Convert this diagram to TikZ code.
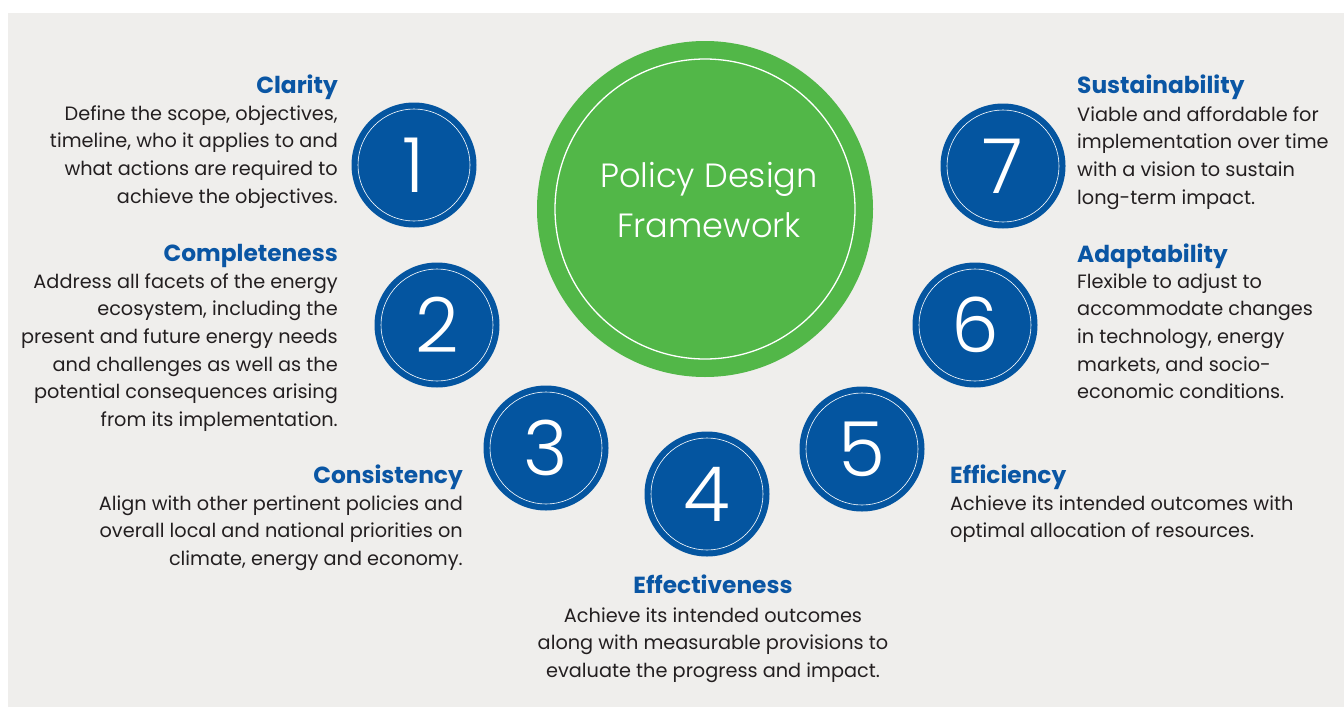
\documentclass[tikz,border=0pt]{standalone}
\usepackage{fontspec}
\setmainfont{Poppins}
\IfFontExistsTF{Poppins Light}
  {\newfontfamily\thinfont{Poppins Light}}
  {\newfontfamily\thinfont{Poppins}}
\definecolor{pagebg}{HTML}{EFEEEC}
\definecolor{hubgreen}{HTML}{52B748}
\definecolor{discblue}{HTML}{0455A0}
\definecolor{headblue}{HTML}{0A56A4}
\definecolor{bodyink}{HTML}{231F20}
% text blocks: first row baseline is the block's baseline
\newcommand\rlines[1]{\begin{tabular}[t]{@{}r@{}}#1\end{tabular}}
\newcommand\llines[1]{\begin{tabular}[t]{@{}l@{}}#1\end{tabular}}
\newcommand\clines[1]{\begin{tabular}[t]{@{}c@{}}#1\end{tabular}}
\begin{document}
\begin{tikzpicture}[x=1pt,y=-1pt,
  hub/.style={circle, fill=hubgreen, minimum size=336pt, inner sep=0pt},
  numdisc/.style={circle, fill=discblue, minimum size=125pt, inner sep=0pt,
    text=white, font=\thinfont\fontsize{76}{76}\selectfont},
  ring/.style={draw=white, line width=0.6pt},
  hubring/.style={draw=white, line width=1.3pt},
  head/.style={text=headblue, inner sep=0pt, font=\bfseries\fontsize{23.3}{28}\selectfont},
  body/.style={text=bodyink, inner sep=0pt, font=\fontsize{19.3}{27.7}\selectfont},
  hubtext/.style={text=white, inner sep=0pt, font=\thinfont\fontsize{33.6}{50}\selectfont}]
\useasboundingbox (0,0) rectangle (1344,707);
\fill[white] (0,0) rectangle (1344,707);
\fill[pagebg] (8,13) rectangle (1344,707);

% central circle
\node[hub] (hub) at (705,209) {};
\draw[hubring] (hub.center) circle[radius=150];
\node[hubtext, anchor=base] (title) at (709,187) {\clines{Policy Design\\Framework}};

% numbered discs
\foreach \n/\x/\y in {1/414/165, 2/437/325, 3/546/448, 4/707/494,
                      5/862/449, 6/975/325, 7/1003/166} {
  \node[numdisc] (c\n) at (\x,\y) {\n};
  \draw[ring] (c\n.center) circle[radius=56];
}

% left column
\node[head, anchor=base east] (h1) at (338,93) {Clarity};
\node[body, anchor=base east] (b1) at (338,120) {\rlines{Define the scope, objectives,\\
  timeline, who it applies to and\\what actions are required to\\achieve the objectives.}};

\node[head, anchor=base east] (h2) at (338,261) {Completeness};
\node[body, anchor=base east] (b2) at (338,288) {\rlines{Address all facets of the energy\\
  ecosystem, including the\\present and future energy needs\\and challenges as well as the\\
  potential consequences arising\\from its implementation.}};

\node[head, anchor=base east] (h3) at (463,483) {Consistency};
\node[body, anchor=base east] (b3) at (463,510) {\rlines{Align with other pertinent policies and\\
  overall local and national priorities on\\climate, energy and economy.}};

% bottom
\node[head, anchor=base] (h4) at (713,593) {Effectiveness};
\node[body, anchor=base] (b4) at (713,622) {\clines{Achieve its intended outcomes\\
  along with measurable provisions to\\evaluate the progress and impact.}};

% right column
\node[head, anchor=base west] (h5) at (950,483) {Efficiency};
\node[body, anchor=base west] (b5) at (950,510) {\llines{Achieve its intended outcomes with\\
  optimal allocation of resources.}};

\node[head, anchor=base west] (h6) at (1077,262) {Adaptability};
\node[body, anchor=base west] (b6) at (1077,288) {\llines{Flexible to adjust to\\
  accommodate changes\\in technology, energy\\markets, and socio-\\economic conditions.}};

\node[head, anchor=base west] (h7) at (1077,93) {Sustainability};
\node[body, anchor=base west] (b7) at (1077,121) {\llines{Viable and affordable for\\
  implementation over time\\with a vision to sustain\\long-term impact.}};
\end{tikzpicture}
\end{document}
